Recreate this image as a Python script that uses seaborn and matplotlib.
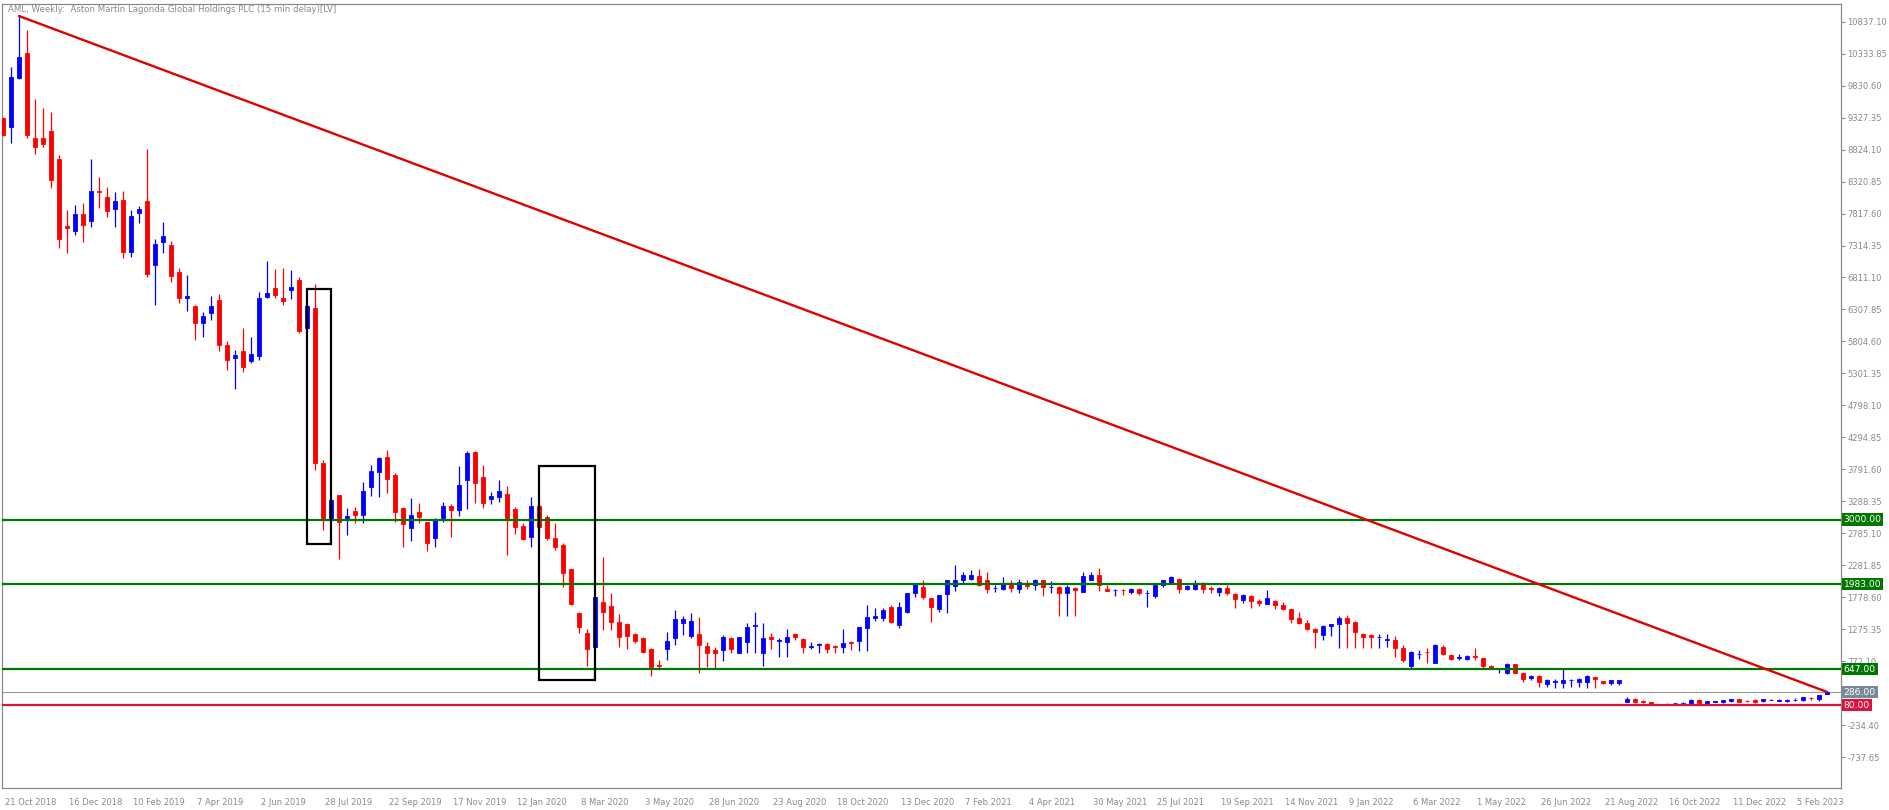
import numpy as np
import pandas as pd
import matplotlib
matplotlib.use("Agg")
import matplotlib.pyplot as plt
import matplotlib.transforms as mtransforms
from matplotlib.patches import Rectangle
import seaborn as sns

# Weekly OHLC, AML, one candle per week starting 21 Oct 2018
opens = [
    9316, 9185, 9956, 10350, 9001, 9011, 9116, 8681, 7621, 7548,
    7810, 7705, 8177, 8078, 7884, 8030, 7217, 7831, 8015, 7007,
    7375, 7322, 6892, 6483, 6367, 6100, 6247, 6456, 5748, 5538,
    5659, 5501, 5575, 6509, 6651, 6493, 6614, 6771, 6010, 6331,
    3896, 3020, 3382, 3020, 3135, 3072, 3518, 3754, 3990, 3702,
    3177, 2862, 3114, 2956, 2705, 3020, 3214, 3151, 3623, 4064,
    3675, 3319, 3361, 3403, 3161, 2904, 2731, 3214, 3046, 2715,
    2600, 2223, 1535, 1210, 990, 1698, 1640, 1394, 1357, 1200,
    1131, 958, 712, 964, 1131, 1378, 1173, 1200, 1011, 948,
    948, 1131, 895, 1079, 1326, 895, 1158, 1090, 1079, 1194,
    1121, 990, 1027, 1042, 1016, 990, 1079, 1095, 1289, 1457,
    1457, 1630, 1341, 1551, 1850, 1941, 1759, 1587, 1821, 1952,
    2046, 2072, 2113, 2046, 1926, 1915, 1978, 1900, 1978, 1967,
    2046, 1936, 1941, 1848, 1926, 1863, 2056, 2134, 1905, 1889,
    1894, 1863, 1905, 1837, 1800, 1967, 2009, 2061, 1915, 1915,
    1983, 1931, 1863, 1931, 1821, 1740, 1792, 1719, 1677, 1719,
    1661, 1588, 1452, 1373, 1284, 1180, 1321, 1353, 1452, 1389,
    1206, 1180, 1149, 1112, 1102, 981, 699, 887, 918, 746,
    997, 866, 814, 803, 845, 814, 699, 662, 578, 720,
    578, 510, 537, 411, 448, 421, 469, 437, 448, 516,
    458, 421, 421, 133, 175, 143, 127, 92, 100, 106,
    101, 96, 159, 106, 127, 133, 143, 169, 148, 159,
    143, 159, 148, 148, 154, 159, 190, 175, 253,
]
highs = [
    9330, 10129, 10927, 10707, 9615, 9473, 9410, 8739, 7873, 7952,
    7988, 8671, 8398, 8240, 8151, 8177, 7873, 7936, 8833, 7416,
    7689, 7390, 6955, 6850, 6380, 6273, 6525, 6551, 5816, 5669,
    6010, 5868, 6588, 7075, 6940, 6966, 6929, 6813, 6380, 6709,
    3938, 3318, 3382, 3177, 3193, 3597, 3859, 3990, 4095, 3728,
    3203, 3345, 3256, 2967, 3020, 3282, 3240, 3849, 4085, 4085,
    3859, 3440, 3623, 3529, 3203, 2941, 3361, 3230, 3072, 2951,
    2626, 2223, 1551, 1278, 1787, 2417, 1840, 1515, 1378, 1221,
    1147, 974, 790, 1236, 1577, 1483, 1525, 1462, 1079, 1000,
    1184, 1158, 1158, 1368, 1551, 1368, 1210, 1131, 1278, 1210,
    1131, 1079, 1063, 1063, 1027, 1278, 1095, 1315, 1656, 1604,
    1604, 1651, 1709, 1850, 1997, 2055, 1759, 1811, 2046, 2280,
    2176, 2213, 2218, 2176, 1967, 2098, 2046, 2072, 2046, 2072,
    2046, 2030, 1952, 1967, 1941, 2176, 2176, 2244, 1967, 1915,
    1900, 1926, 1931, 1889, 1994, 2056, 2108, 2072, 1978, 2046,
    2020, 1952, 1941, 1967, 1837, 1834, 1808, 1755, 1886, 1740,
    1703, 1598, 1546, 1415, 1295, 1337, 1363, 1478, 1494, 1400,
    1216, 1206, 1196, 1196, 1164, 1023, 929, 945, 971, 1049,
    1033, 882, 892, 866, 971, 824, 709, 667, 735, 725,
    589, 552, 552, 484, 484, 657, 484, 500, 552, 526,
    463, 474, 474, 201, 196, 159, 133, 98, 106, 117,
    122, 169, 169, 148, 148, 159, 175, 175, 159, 169,
    175, 169, 169, 175, 185, 211, 211, 238, 300,
]
lows = [
    9040, 8922, 9940, 9001, 8754, 8860, 8214, 7280, 7191, 7480,
    7375, 7611, 7899, 7768, 7611, 7112, 7128, 7674, 6824, 6378,
    7191, 6745, 6404, 6289, 5827, 5879, 6142, 5659, 5354, 5050,
    5328, 5470, 5512, 6483, 6483, 6378, 6467, 5932, 5980, 3781,
    2836, 2993, 2374, 2757, 2941, 2941, 3371, 3361, 3413, 2967,
    2574, 2668, 2941, 2505, 2563, 2967, 2731, 3056, 3161, 3256,
    3177, 3245, 3282, 2443, 2773, 2679, 2574, 2836, 2679, 2521,
    1934, 1656, 1210, 696, 974, 1263, 1263, 1000, 958, 1053,
    895, 544, 659, 790, 1027, 1184, 1131, 591, 685, 659,
    780, 895, 895, 895, 895, 696, 958, 832, 832, 1105,
    895, 958, 895, 895, 895, 895, 948, 938, 938, 1409,
    1409, 1368, 1289, 1525, 1787, 1743, 1388, 1550, 1524, 1879,
    1994, 2046, 1952, 1837, 1863, 1889, 1863, 1848, 1900, 1889,
    1795, 1848, 1488, 1488, 1488, 1863, 2046, 1879, 1874, 1795,
    1811, 1821, 1811, 1628, 1759, 1941, 1994, 1848, 1889, 1889,
    1848, 1837, 1795, 1811, 1609, 1687, 1609, 1635, 1666, 1598,
    1572, 1373, 1363, 1269, 981, 1112, 1169, 981, 981, 981,
    981, 981, 981, 1002, 840, 762, 667, 803, 735, 735,
    866, 788, 788, 788, 788, 657, 647, 578, 568, 578,
    437, 474, 369, 369, 343, 343, 359, 359, 343, 343,
    411, 395, 395, 122, 106, 106, 90, 80, 85, 96,
    96, 90, 96, 96, 122, 117, 133, 122, 127, 117,
    133, 154, 143, 122, 143, 143, 159, 143, 248,
]
closes = [
    9054, 9961, 10276, 9054, 8870, 8912, 8345, 7416, 7595, 7810,
    7637, 8172, 8156, 7863, 8015, 7217, 7779, 7889, 6866, 7338,
    7464, 6839, 6483, 6525, 6100, 6205, 6367, 5748, 5512, 5590,
    5407, 5606, 6483, 6572, 6535, 6446, 6666, 5974, 6367, 3891,
    3020, 3308, 2967, 3056, 3072, 3455, 3770, 3969, 3633, 3124,
    2930, 3072, 3046, 2626, 2993, 3214, 3151, 3544, 4053, 3570,
    3266, 3371, 3455, 3020, 2888, 2694, 3214, 2888, 2705, 2574,
    2165, 1672, 1315, 964, 1787, 1551, 1394, 1158, 1173, 1095,
    911, 675, 696, 1095, 1430, 1430, 1404, 1027, 895, 895,
    1158, 964, 1147, 1315, 1341, 1131, 1116, 1105, 1147, 1158,
    990, 1011, 1042, 964, 990, 1053, 1053, 1315, 1472, 1488,
    1577, 1383, 1630, 1850, 1997, 1774, 1628, 1811, 2046, 2046,
    2134, 2124, 1978, 1915, 1931, 2004, 1926, 2020, 1952, 2056,
    1941, 1941, 1837, 1941, 1889, 2108, 2134, 1967, 1879, 1894,
    1889, 1915, 1848, 1842, 1978, 2046, 2098, 1905, 1957, 2004,
    1915, 1900, 1926, 1837, 1750, 1818, 1719, 1687, 1766, 1651,
    1588, 1441, 1373, 1284, 1232, 1321, 1353, 1452, 1379, 1232,
    1154, 1154, 1154, 1117, 981, 788, 908, 892, 913, 1023,
    882, 803, 840, 856, 840, 699, 657, 667, 725, 589,
    490, 537, 437, 474, 453, 474, 474, 490, 537, 484,
    421, 474, 474, 175, 133, 127, 96, 88, 96, 112,
    117, 159, 106, 138, 143, 154, 169, 133, 143, 133,
    169, 164, 164, 164, 159, 201, 185, 238, 286,
]

date_labels = [
    "21 Oct 2018", "16 Dec 2018", "10 Feb 2019", "7 Apr 2019", "2 Jun 2019",
    "28 Jul 2019", "22 Sep 2019", "17 Nov 2019", "12 Jan 2020", "8 Mar 2020",
    "3 May 2020", "28 Jun 2020", "23 Aug 2020", "18 Oct 2020", "13 Dec 2020",
    "7 Feb 2021", "4 Apr 2021", "30 May 2021", "25 Jul 2021", "19 Sep 2021",
    "14 Nov 2021", "9 Jan 2022", "6 Mar 2022", "1 May 2022", "26 Jun 2022",
    "21 Aug 2022", "16 Oct 2022", "11 Dec 2022", "5 Feb 2023",
]
price_ticks = [
    10837.10, 10333.85, 9830.60, 9327.35, 8824.10, 8320.85, 7817.60, 7314.35,
    6811.10, 6307.85, 5804.60, 5301.35, 4798.10, 4294.85, 3791.60, 3288.35,
    2785.10, 2281.85, 1778.60, 1275.35, 772.10, 268.85, -234.40, -737.65,
]

# drawn objects on the chart
resistance_levels = [3000, 1983, 647]
support_level = 80
last_price = 286
trend_x = [2, 228]
trend_y = [10927, 287]
box_x0 = [38, 67]
box_x1 = [41, 74]
box_low = [2616, 475]
box_high = [6630, 3844]

TITLE = "AML, Weekly:  Aston Martin Lagonda Global Holdings PLC (15 min delay)[LV]"
BLUE, RED = "#0000ff", "#ff0000"
GREEN, CRIMSON, SLATE = "#007800", "#dc143c", "#778899"
GREY = "#8a8a8a"

sns.set_style("white")
plt.rcParams['font.family'] = ['DejaVu Sans']

df = pd.DataFrame({"open": opens, "high": highs, "low": lows, "close": closes})
df["week"] = np.arange(len(df))
colors = np.where(df["close"] >= df["open"], BLUE, RED)

W, H = 1890, 810
fig = plt.figure(figsize=(W / 100, H / 100), dpi=100)
ax = fig.add_axes([2 / W, (H - 788) / H, (1841 - 2) / W, (788 - 4) / H])

# candles: wicks then bodies
ax.vlines(df["week"], df["low"], df["high"], colors=colors, linewidth=0.9, zorder=2)
ax.bar(df["week"], df["close"] - df["open"], bottom=df["open"], width=0.62,
       color=colors, edgecolor=colors, linewidth=0.6, zorder=3)

# horizontal levels
for lvl in resistance_levels:
    ax.axhline(lvl, color=GREEN, linewidth=1.6, zorder=4)
ax.axhline(support_level, color=CRIMSON, linewidth=1.6, zorder=4)
ax.axhline(last_price, color="#9a9a9a", linewidth=0.8, zorder=1)

# trend line
sns.lineplot(x=trend_x, y=trend_y, ax=ax, color="#e00000", linewidth=1.7, zorder=5)

# rectangles
for x0, x1, lo, hi in zip(box_x0, box_x1, box_low, box_high):
    ax.add_patch(Rectangle((x0, lo), x1 - x0, hi - lo, fill=False,
                           edgecolor="black", linewidth=1.6, zorder=5))

ax.set_xlim(-0.125, 229.75)
ax.set_ylim(-1225, 11116)

# right price scale
ax.yaxis.tick_right()
ax.set_yticks(price_ticks)
ax.set_yticklabels([f"{v:.2f}" for v in price_ticks])
ax.tick_params(axis="y", direction="out", length=3, width=0.8, colors=GREY,
               labelsize=6, pad=1.5)

# time scale
ax.set_xticks(range(0, 8 * len(date_labels), 8))
ax.set_xticklabels(date_labels, ha="left")
ax.tick_params(axis="x", direction="out", length=6, width=0.8, colors=GREY,
               labelsize=6, pad=1)
offset = mtransforms.ScaledTranslation(2 / 100, 0, fig.dpi_scale_trans)
for lbl in ax.get_xticklabels():
    lbl.set_transform(lbl.get_transform() + offset)

for sp in ax.spines.values():
    sp.set_color(GREY)
    sp.set_linewidth(0.9)

# price tags on the scale
ytrans = ax.get_yaxis_transform()
tags = [(v, GREEN) for v in resistance_levels] + [(last_price, SLATE), (support_level, CRIMSON)]
for val, col in tags:
    ax.text(1.0015, val, f"{val:.2f}", transform=ytrans, ha="left", va="center",
            fontsize=6.6, color="white", clip_on=False, zorder=10,
            bbox=dict(boxstyle="square,pad=0.18", fc=col, ec="none"))

fig.text(8 / W, 1 - 10 / H, TITLE, ha="left", va="center", fontsize=6.2, color=GREY)

fig.savefig("out.png", dpi=100, facecolor="white")
